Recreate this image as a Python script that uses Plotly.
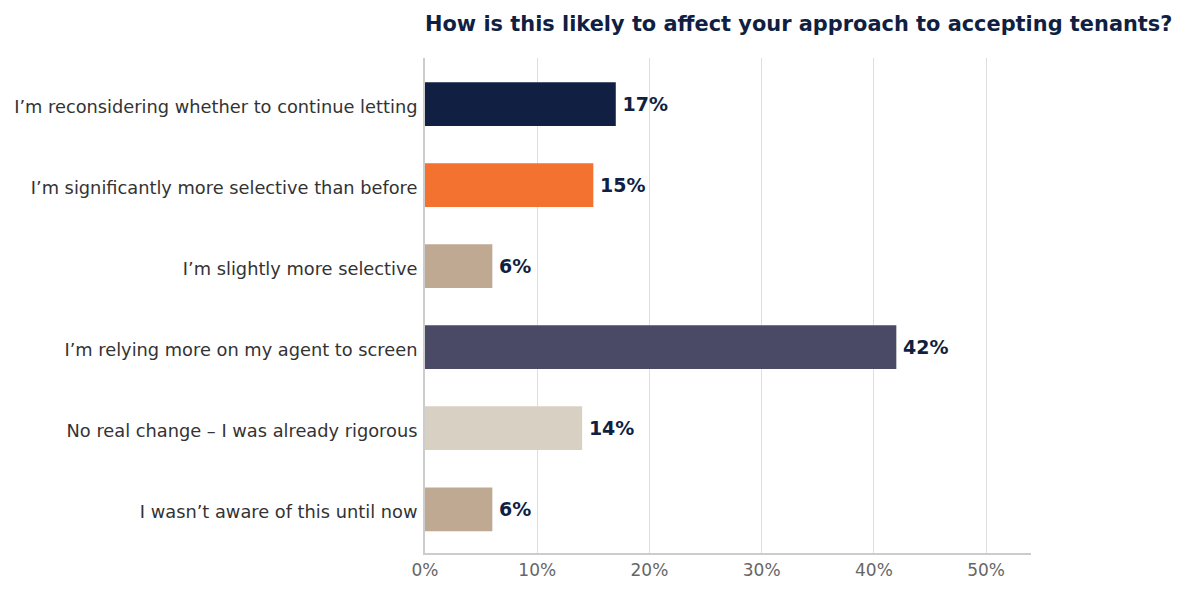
import plotly.graph_objects as go

categories = [
    "I’m reconsidering whether to continue letting",
    "I’m significantly more selective than before",
    "I’m slightly more selective",
    "I’m relying more on my agent to screen",
    "No real change – I was already rigorous",
    "I wasn’t aware of this until now",
]
values = [17, 15, 6, 42, 14, 6]
colors = ["#111f42", "#f37230", "#bfa992", "#4a4a66", "#d8d0c2", "#bfa992"]
x_ticks = [0, 10, 20, 30, 40, 50]
x_tick_labels = ["0%", "10%", "20%", "30%", "40%", "50%"]
title_text = "How is this likely to affect your approach to accepting tenants?"

font_family = "DejaVu Sans"

fig = go.Figure(
    go.Bar(
        x=values,
        y=categories,
        orientation="h",
        marker=dict(color=colors, line=dict(width=0)),
        width=0.54,
        text=[f"\u2009{v}%" for v in values],
        textposition="outside",
        textfont=dict(family=font_family, size=19, color="#111f42", weight="bold"),
        cliponaxis=False,
        hoverinfo="skip",
    )
)

fig.update_layout(
    width=1188,
    height=594,
    margin=dict(l=425, r=157, t=58, b=41),
    paper_bgcolor="white",
    plot_bgcolor="white",
    showlegend=False,
    title=dict(
        text=f"<b>{title_text}</b>",
        x=0,
        xref="paper",
        xanchor="left",
        y=1 - 24 / 594,
        yref="container",
        yanchor="middle",
        font=dict(family=font_family, size=20.9, color="#111f42"),
    ),
    font=dict(family=font_family),
)

fig.update_xaxes(
    range=[0, 54],
    tickvals=x_ticks,
    ticktext=x_tick_labels,
    showgrid=True,
    gridcolor="#dedede",
    gridwidth=1,
    zeroline=False,
    showline=True,
    linecolor="#cccccc",
    linewidth=2,
    tickfont=dict(family=font_family, size=17, color="#666666"),
    ticks="",
    ticklabelstandoff=1,
)

fig.update_yaxes(
    categoryorder="array",
    categoryarray=categories[::-1],
    range=[-0.54, 5.57],
    showgrid=False,
    zeroline=False,
    showline=True,
    linecolor="#cccccc",
    linewidth=2,
    tickfont=dict(family=font_family, size=17.8, color="#333333"),
    ticks="",
    ticklabelstandoff=2,
    ticklabelshift=3,
)

fig.write_html("out.html")
